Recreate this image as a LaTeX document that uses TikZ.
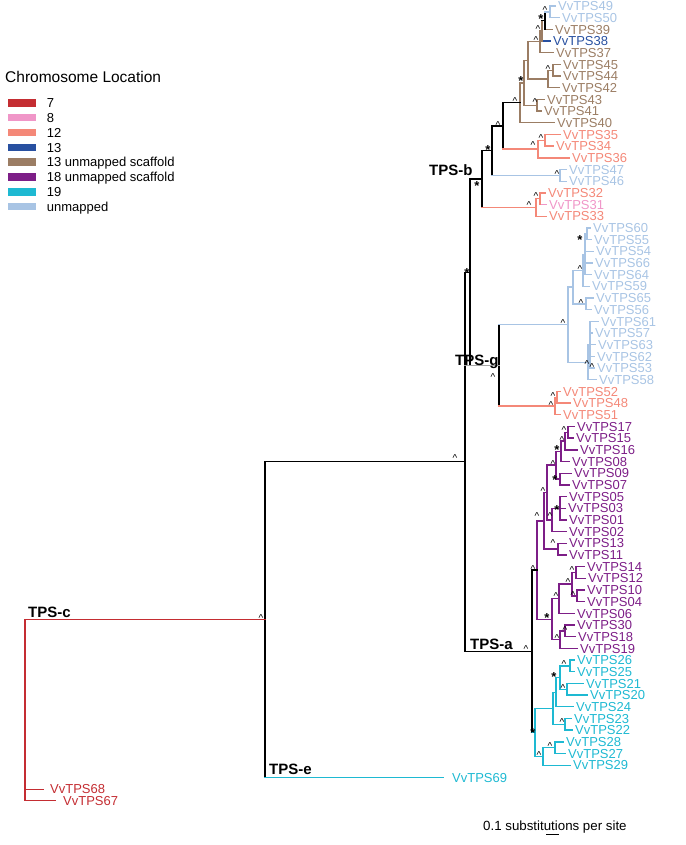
\documentclass[tikz,border=0pt]{standalone}
\usepackage{fontspec}
\setmainfont{Liberation Sans}
\usetikzlibrary{calc}
\definecolor{cseven}{RGB}{196,45,50}
\definecolor{ceight}{RGB}{240,150,200}
\definecolor{ctwelve}{RGB}{244,136,120}
\definecolor{cthirteen}{RGB}{40,80,160}
\definecolor{cbrown}{RGB}{155,125,100}
\definecolor{cpurple}{RGB}{125,30,135}
\definecolor{ccyan}{RGB}{30,185,210}
\definecolor{clb}{RGB}{168,196,228}
\definecolor{cgray}{RGB}{165,165,165}
\tikzset{
  br/.style={line width=1.35pt, line cap=rect},
  leaflab/.style={anchor=base west, inner sep=0pt, font=\fontsize{13}{13}\selectfont, yshift=-4.65pt},
  caret/.style={anchor=base, inner sep=0pt, font=\fontsize{10}{10}\selectfont, yshift=-5.2pt},
  starm/.style={anchor=base, inner sep=0pt, font=\bfseries\fontsize{13}{13}\selectfont, yshift=-7.3pt},
  clade/.style={anchor=base west, inner sep=0pt, font=\bfseries\fontsize{15}{15}\selectfont},
  leglab/.style={anchor=base west, inner sep=0pt, font=\fontsize{13}{13}\selectfont, yshift=-4.65pt},
}
% #1 id, #2 label x, #3 row index, #4 colour, #5 parent
\newcommand\leafx[5]{%
  \coordinate (t#1) at (#2-3, 6+11.68*#3);
  \node[leaflab, text=#4] (l#1) at (#2, 6+11.68*#3) {VvTPS#1};
  \draw[br, #4] (#5 |- t#1) -- (t#1);}
% vertical of node #1 from child #2 to child #3, colour #4
\newcommand\vlin[4]{\draw[br, #4] (#1 |- #2) -- (#1 |- #3);}
% horizontal from parent #1 to child #2, colour #3
\newcommand\hlin[3]{\draw[br, #3] (#1 |- #2) -- (#2);}
\newcommand\mkcar[2]{\node[caret] (m#1) at ($(#1)+(#2)$) {\textasciicircum};}
\newcommand\mkstar[2]{\node[starm] (m#1) at ($(#1)+(#2)$) {*};}
\begin{document}
\begin{tikzpicture}[x=1pt, y=-1pt]
\useasboundingbox (0,0) rectangle (685,845);
% ---------- internal nodes ----------
\coordinate (A) at (550,11.84);
\coordinate (B) at (545,20.60);
\coordinate (Bp) at (542,30.82);
\coordinate (C) at (540,41.77);
\coordinate (E) at (553,70.24);
\coordinate (F) at (548,79.00);
\coordinate (D) at (528,60.39);
\coordinate (H) at (537,105.28);
\coordinate (D2) at (524,82.84);
\coordinate (G) at (520,102.82);
\coordinate (L) at (545,140.32);
\coordinate (K) at (538,149.08);
\coordinate (J) at (503,125.95);
\coordinate (N) at (560,175.36);
\coordinate (M) at (492,150.66);
\coordinate (R) at (540,198.72);
\coordinate (Q) at (536,207.48);
\coordinate (P) at (482,179.07);
\coordinate (U1) at (587,233.76);
\coordinate (U2) at (585,254.20);
\coordinate (Z1a) at (583,270.26);
\coordinate (Z1b) at (586,303.84);
\coordinate (Z1) at (573,287.05);
\coordinate (Z2p) at (590,344.72);
\coordinate (Z2) at (588,362.24);
\coordinate (Y) at (568,324.65);
\coordinate (Sa) at (557,397.28);
\coordinate (Sb) at (555,406.04);
\coordinate (T) at (499,365.35);
\coordinate (S) at (470,272.21);
\coordinate (p1) at (568,432.32);
\coordinate (p2) at (565,441.08);
\coordinate (p3) at (561,451.30);
\coordinate (p4) at (560,479.04);
\coordinate (p5) at (556,465.17);
\coordinate (p6) at (560,508.24);
\coordinate (p7) at (552,519.92);
\coordinate (p8) at (547,492.55);
\coordinate (p9) at (558,549.12);
\coordinate (p10) at (544,520.84);
\coordinate (p11) at (576,572.48);
\coordinate (p12) at (577,595.84);
\coordinate (p13) at (572,584.16);
\coordinate (p14) at (559,598.76);
\coordinate (p15a) at (565,630.88);
\coordinate (p15) at (560,639.64);
\coordinate (p17) at (552,619.20);
\coordinate (p16) at (537,570.02);
\coordinate (c26) at (570,665.92);
\coordinate (c21) at (567,689.28);
\coordinate (c1) at (560,677.60);
\coordinate (c2) at (556,692.20);
\coordinate (c23) at (565,724.32);
\coordinate (c3) at (553,708.26);
\coordinate (c28) at (555,747.68);
\coordinate (c4) at (543,756.44);
\coordinate (c5) at (535,732.35);
\coordinate (TA) at (532,651.19);
\coordinate (W) at (465,461.70);
\coordinate (root) at (265,619.3);
\coordinate (tc) at (25,619.3);
% ---------- leaves ----------
\leafx{49}{558}{0}{clb}{A}
\leafx{50}{562}{1}{clb}{A}
\leafx{39}{555}{2}{cbrown}{B}
\leafx{38}{553}{3}{cthirteen}{Bp}
\leafx{37}{556}{4}{cbrown}{C}
\leafx{45}{563}{5}{cbrown}{E}
\leafx{44}{563}{6}{cbrown}{E}
\leafx{42}{562}{7}{cbrown}{F}
\leafx{43}{547}{8}{cbrown}{H}
\leafx{41}{544}{9}{cbrown}{H}
\leafx{40}{557}{10}{cbrown}{G}
\leafx{35}{563}{11}{ctwelve}{L}
\leafx{34}{556}{12}{ctwelve}{L}
\leafx{36}{572}{13}{ctwelve}{K}
\leafx{47}{569}{14}{clb}{N}
\leafx{46}{569}{15}{clb}{N}
\leafx{32}{548}{16}{ctwelve}{R}
\leafx{31}{549}{17}{ceight}{R}
\leafx{33}{549}{18}{ctwelve}{Q}
\leafx{60}{593}{19}{clb}{U1}
\leafx{55}{594}{20}{clb}{U1}
\leafx{54}{596}{21}{clb}{U2}
\leafx{66}{595}{22}{clb}{U2}
\leafx{64}{594}{23}{clb}{U2}
\leafx{59}{592}{24}{clb}{Z1a}
\leafx{65}{596}{25}{clb}{Z1b}
\leafx{56}{594}{26}{clb}{Z1b}
\leafx{61}{601}{27}{clb}{Z2p}
\leafx{57}{595}{28}{clb}{Z2p}
\leafx{63}{598}{29}{clb}{Z2p}
\leafx{62}{597}{30}{clb}{Z2p}
\leafx{53}{597}{31}{clb}{Z2p}
\leafx{58}{599}{32}{clb}{Z2}
\leafx{52}{563}{33}{ctwelve}{Sa}
\leafx{48}{573}{34}{ctwelve}{Sa}
\leafx{51}{563}{35}{ctwelve}{Sb}
\leafx{17}{577}{36}{cpurple}{p1}
\leafx{15}{576}{37}{cpurple}{p1}
\leafx{16}{580}{38}{cpurple}{p2}
\leafx{08}{572}{39}{cpurple}{p3}
\leafx{09}{574}{40}{cpurple}{p4}
\leafx{07}{572}{41}{cpurple}{p4}
\leafx{05}{569}{42}{cpurple}{p6}
\leafx{03}{568}{43}{cpurple}{p6}
\leafx{01}{569}{44}{cpurple}{p6}
\leafx{02}{569}{45}{cpurple}{p7}
\leafx{13}{569}{46}{cpurple}{p9}
\leafx{11}{569}{47}{cpurple}{p9}
\leafx{14}{587}{48}{cpurple}{p11}
\leafx{12}{588}{49}{cpurple}{p11}
\leafx{10}{587}{50}{cpurple}{p12}
\leafx{04}{587}{51}{cpurple}{p12}
\leafx{06}{577}{52}{cpurple}{p14}
\leafx{30}{577}{53}{cpurple}{p15a}
\leafx{18}{578}{54}{cpurple}{p15a}
\leafx{19}{580}{55}{cpurple}{p15}
\leafx{26}{577}{56}{ccyan}{c26}
\leafx{25}{577}{57}{ccyan}{c26}
\leafx{21}{586}{58}{ccyan}{c21}
\leafx{20}{590}{59}{ccyan}{c21}
\leafx{24}{576}{60}{ccyan}{c2}
\leafx{23}{574}{61}{ccyan}{c23}
\leafx{22}{575}{62}{ccyan}{c23}
\leafx{28}{566}{63}{ccyan}{c28}
\leafx{27}{568}{64}{ccyan}{c28}
\leafx{29}{573}{65}{ccyan}{c4}
% outgroup leaves
\coordinate (t69) at (443,777.5);
\node[leaflab, text=ccyan] (l69) at (452,777.5) {VvTPS69};
\coordinate (t68) at (43,789.3);
\node[leaflab, text=cseven] (l68) at (50,789.3) {VvTPS68};
\coordinate (t67) at (55,800.7);
\node[leaflab, text=cseven] (l67) at (63,800.7) {VvTPS67};
% ---------- verticals ----------
\vlin{A}{t49}{t50}{clb}
\vlin{B}{A}{t39}{black}
\vlin{Bp}{B}{t38}{cbrown}
\vlin{C}{Bp}{t37}{cbrown}
\vlin{E}{t45}{t44}{cbrown}
\vlin{F}{E}{t42}{cbrown}
\vlin{D}{C}{F}{cbrown}
\vlin{H}{t43}{t41}{cbrown}
\vlin{D2}{D}{H}{cbrown}
\vlin{G}{D2}{t40}{cbrown}
\vlin{L}{t35}{t34}{ctwelve}
\vlin{K}{L}{t36}{ctwelve}
\vlin{J}{G}{K}{black}
\vlin{N}{t47}{t46}{clb}
\vlin{M}{J}{N}{black}
\vlin{R}{t32}{t31}{ctwelve}
\vlin{Q}{R}{t33}{ctwelve}
\vlin{P}{M}{Q}{black}
\vlin{U1}{t60}{t55}{clb}
\vlin{U2}{U1}{t64}{clb}
\vlin{Z1a}{U2}{t59}{clb}
\vlin{Z1b}{t65}{t56}{clb}
\vlin{Z1}{Z1a}{Z1b}{clb}
\vlin{Z2p}{t61}{t53}{clb}
\vlin{Z2}{Z2p}{t58}{clb}
\vlin{Y}{Z1}{Z2}{clb}
\vlin{Sa}{t52}{t48}{ctwelve}
\vlin{Sb}{Sa}{t51}{ctwelve}
\vlin{T}{Y}{Sb}{black}
\vlin{S}{P}{T}{black}
\vlin{p1}{t17}{t15}{cpurple}
\vlin{p2}{p1}{t16}{cpurple}
\vlin{p3}{p2}{t08}{cpurple}
\vlin{p4}{t09}{t07}{cpurple}
\vlin{p5}{p3}{p4}{cpurple}
\vlin{p6}{t05}{t01}{cpurple}
\vlin{p7}{p6}{t02}{cpurple}
\vlin{p8}{p5}{p7}{cpurple}
\vlin{p9}{t13}{t11}{cpurple}
\vlin{p10}{p8}{p9}{cpurple}
\vlin{p11}{t14}{t12}{cpurple}
\vlin{p12}{t10}{t04}{cpurple}
\vlin{p13}{p11}{p12}{cpurple}
\vlin{p14}{p13}{t06}{cpurple}
\vlin{p15a}{t30}{t18}{cpurple}
\vlin{p15}{p15a}{t19}{cpurple}
\vlin{p17}{p14}{p15}{cpurple}
\vlin{p16}{p10}{p17}{cpurple}
\vlin{c26}{t26}{t25}{ccyan}
\vlin{c21}{t21}{t20}{ccyan}
\vlin{c1}{c26}{c21}{ccyan}
\vlin{c2}{c1}{t24}{ccyan}
\vlin{c23}{t23}{t22}{ccyan}
\vlin{c3}{c2}{c23}{ccyan}
\vlin{c28}{t28}{t27}{ccyan}
\vlin{c4}{c28}{t29}{ccyan}
\vlin{c5}{c3}{c4}{ccyan}
\vlin{TA}{p16}{c5}{black}
\vlin{W}{S}{TA}{black}
\vlin{root}{W}{t69}{black}
% ---------- horizontals ----------
\hlin{B}{A}{clb}
\hlin{Bp}{B}{black}
\hlin{C}{Bp}{cbrown}
\hlin{D}{C}{cbrown}
\hlin{F}{E}{cbrown}
\hlin{D}{F}{cbrown}
\hlin{D2}{D}{cbrown}
\hlin{D2}{H}{cbrown}
\hlin{G}{D2}{cbrown}
\hlin{J}{G}{black}
\hlin{K}{L}{ctwelve}
\hlin{J}{K}{ctwelve}
\hlin{M}{J}{black}
\hlin{M}{N}{clb}
\hlin{P}{M}{black}
\hlin{Q}{R}{ctwelve}
\hlin{P}{Q}{ctwelve}
\hlin{S}{P}{black}
\hlin{U2}{U1}{clb}
\hlin{Z1a}{U2}{clb}
\hlin{Z1}{Z1a}{clb}
\hlin{Z1}{Z1b}{clb}
\hlin{Y}{Z1}{clb}
\hlin{Z2}{Z2p}{clb}
\hlin{Y}{Z2}{clb}
\hlin{T}{Y}{clb}
\hlin{Sb}{Sa}{ctwelve}
\hlin{T}{Sb}{ctwelve}
\hlin{W}{T}{cgray}
\hlin{W}{S}{black}
\hlin{p2}{p1}{cpurple}
\hlin{p3}{p2}{cpurple}
\hlin{p5}{p3}{cpurple}
\hlin{p5}{p4}{cpurple}
\hlin{p7}{p6}{cpurple}
\hlin{p8}{p5}{cpurple}
\hlin{p8}{p7}{cpurple}
\hlin{p10}{p8}{cpurple}
\hlin{p10}{p9}{cpurple}
\hlin{p13}{p11}{cpurple}
\hlin{p13}{p12}{cpurple}
\hlin{p14}{p13}{cpurple}
\hlin{p17}{p14}{cpurple}
\hlin{p15}{p15a}{cpurple}
\hlin{p17}{p15}{cpurple}
\hlin{p16}{p10}{cpurple}
\hlin{p16}{p17}{cpurple}
\hlin{TA}{p16}{black}
\hlin{c1}{c26}{ccyan}
\hlin{c1}{c21}{ccyan}
\hlin{c2}{c1}{ccyan}
\hlin{c3}{c2}{ccyan}
\hlin{c3}{c23}{ccyan}
\hlin{c4}{c28}{ccyan}
\hlin{c5}{c3}{ccyan}
\hlin{c5}{c4}{ccyan}
\hlin{TA}{c5}{ccyan}
\hlin{W}{TA}{black}
\hlin{root}{W}{black}
\hlin{root}{t69}{ccyan}
% TPS-c (drawn leftwards)
\draw[br, cseven] (root) -- (tc) -- (tc |- t67);
\hlin{tc}{t68}{cseven}
\hlin{tc}{t67}{cseven}
% ---------- support marks ----------
\mkcar{A}{-5,-4}
\mkstar{B}{-4,-4}
\mkcar{Bp}{-4,-4}
\mkcar{C}{-4,-3}
\mkcar{E}{-5,-3}
\mkcar{H}{-2,-5}
\mkstar{D2}{-3,-5}
\mkcar{G}{-5,-4}
\mkcar{J}{-5,-3}
\mkcar{L}{-4,-4}
\mkcar{K}{-5,-6}
\mkstar{M}{-4,-3}
\mkcar{N}{-3,-3}
\mkcar{R}{-4,-4}
\mkcar{Q}{-7,-4}
\mkstar{P}{-5,4}
\mkstar{S}{-3,-2}
\mkstar{U1}{-7,3}
\mkcar{Z1a}{-3,-3}
\mkcar{Z1b}{-5,-3}
\mkcar{Y}{-5,-3}
\mkcar{Z2}{-1,0}
\node[caret] (mZ2p) at (592,365.5) {\textasciicircum};
\mkcar{T}{-6,10}
\mkcar{Sa}{-4,-3}
\mkcar{Sb}{-4,-3}
\mkcar{W}{-10,-5}
\mkcar{p1}{-4,-4}
\mkcar{p2}{-3,-3}
\mkstar{p3}{-4,-4}
\mkcar{p5}{-3,-3}
\mkstar{p4}{-5,-2}
\mkcar{p8}{-4,-3}
\mkstar{p6}{-3,-1}
\mkcar{p7}{-2,-6}
\mkcar{p10}{-7,-7}
\mkcar{p9}{-5,-8}
\mkcar{p16}{-4,-3}
\mkcar{p11}{-4,-4}
\mkcar{p13}{-4,-4}
\mkcar{p12}{-4,-3}
\mkcar{p14}{-3,-4}
\mkstar{p17}{-5,-4}
\mkcar{p15a}{0,-3}
\mkcar{p15}{-3,-3}
\mkcar{TA}{-6,-4}
\mkcar{c26}{-6,-4}
\mkstar{c1}{-6,-3}
\mkcar{c21}{-4,-3}
\mkcar{c23}{-3,-4}
\mkstar{c5}{-2,-2}
\mkcar{c28}{-5,-3}
\mkcar{c4}{-4,-3}
\mkcar{root}{-4,-3}
% ---------- clade labels ----------
\node[clade] (lb) at (429,175.5) {TPS-b};
\node[clade] (lg) at (455,365) {TPS-g};
\node[clade] (la) at (470,649) {TPS-a};
\node[clade] (lc) at (28,617) {TPS-c};
\node[clade] (le) at (269,774) {TPS-e};
% ---------- legend ----------
\node[anchor=base west, inner sep=0pt, font=\fontsize{15.5}{16}\selectfont] (legtitle) at (5,82.7) {Chromosome Location};
\foreach \c/\t [count=\i from 0] in {cseven/7, ceight/8, ctwelve/12, cthirteen/13, cbrown/13 unmapped scaffold, cpurple/18 unmapped scaffold, ccyan/19, clb/unmapped}{
  \fill[\c] (8.3, 99.3+14.8*\i) rectangle (36, 106.7+14.8*\i);
  \node[leglab] (leg\i) at (46.7, 103+14.8*\i) {\t};
}
% ---------- scale ----------
\node[anchor=base west, inner sep=0pt, font=\fontsize{13.3}{14}\selectfont] (scaletext) at (483,830.7) {0.1 substitutions per site};
\draw[line width=1.3pt] (546,834.3) -- (559,834.3);
\end{tikzpicture}
\end{document}
